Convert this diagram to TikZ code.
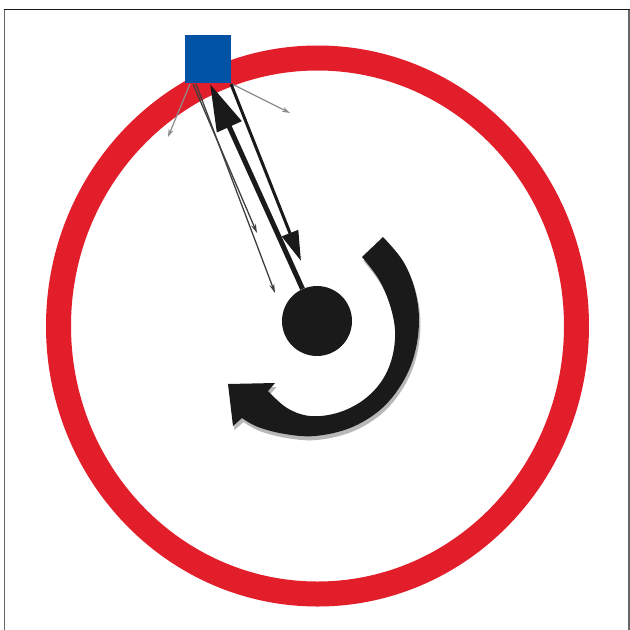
\documentclass[tikz,border=0pt]{standalone}
\usetikzlibrary{arrows.meta}
\definecolor{ringred}{RGB}{226,30,43}
\definecolor{sqblue}{RGB}{0,82,165}
\definecolor{inkblack}{RGB}{26,26,26}
\definecolor{pointergray}{RGB}{140,140,140}
\tikzset{
  ring/.style={draw=ringred, line width=25pt},
  sensor/.style={fill=sqblue, minimum width=46pt, minimum height=48pt, inner sep=0pt, draw=none},
  core/.style={circle, fill=inkblack, minimum size=70pt, inner sep=0pt, draw=none},
  heavyray/.style={draw=inkblack, line width=5pt, -{Triangle[length=47pt,width=26pt]}},
  midray/.style={draw=inkblack, line width=3pt, -{Triangle[length=30pt,width=17pt]}},
  thinray/.style={draw=black!75, line width=1.3pt, -{Stealth[length=9pt,width=5pt]}},
  grayray/.style={draw=pointergray, line width=1.2pt, -{Stealth[length=8pt,width=5pt]}},
  swirl/.style={fill=inkblack},
  swirlshadow/.style={fill=black!28}
}
\newcommand{\swirlpath}{plot[smooth, tension=0.6] coordinates {(383,237) (403,261) (415,290) (419,322) (414,356) (401,385) (380,410) (350,428) (315,436) (285,434) (258,427) (242,418)}
  -- (233,426) -- (228,384) -- (275,383) -- (268,391)
  -- plot[smooth, tension=0.6] coordinates {(268,391) (287,408) (310,416) (337,413) (362,401) (381,382) (392,358) (395,330) (389,302) (378,278) (362,257)} -- cycle}
\begin{document}
\begin{tikzpicture}[x=1pt,y=-1pt]
\useasboundingbox (0,0) rectangle (630,630);
\fill[white] (0,0) rectangle (630,630);
% frame
\draw[black!60, line width=1.3pt] (4.5,630) -- (4.5,9.3);
\draw[black!60, line width=1.3pt] (629,9.3) -- (629,630);
\draw[black!90, line width=1.3pt] (4,9.3) -- (629.6,9.3);
% red ring
\draw[ring] (317.5,326) ellipse [x radius=259pt, y radius=268pt];
% rotating arrow (shadow then body)
\begin{scope}[shift={(1.5,4)}]
\path[swirlshadow] \swirlpath;
\end{scope}
\path[swirl] \swirlpath;
% core and sensor
\node[core] (disk) at (317,321) {};
\node[sensor] (sq) at (208,59) {};
% ray endpoints
\coordinate (hTip) at (210,84);
\coordinate (mStart) at (231,84);
\coordinate (mTip) at (301,261);
\coordinate (aStart) at (193,84);
\coordinate (aTip) at (257,233);
\coordinate (bStart) at (196,84);
\coordinate (bTip) at (275,293);
\coordinate (gLs) at (190,84);
\coordinate (gLe) at (168,137);
\coordinate (gRs) at (232,84);
\coordinate (gRe) at (290,113);
% rays
\draw[grayray] (gLs) -- (gLe);
\draw[grayray] (gRs) -- (gRe);
\draw[thinray] (aStart) -- (aTip);
\draw[thinray] (bStart) -- (bTip);
\draw[midray] (mStart) -- (mTip);
\draw[heavyray] (disk) -- (hTip);
\end{tikzpicture}
\end{document}
